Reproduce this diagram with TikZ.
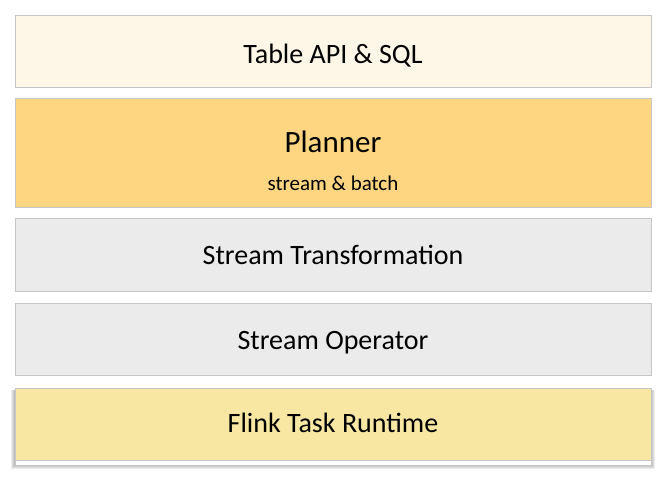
\documentclass[tikz,border=0pt]{standalone}
\usepackage{fontspec}
\setmainfont{Carlito}
\definecolor{apiFill}{HTML}{FEF7E7}
\definecolor{plannerFill}{HTML}{FED681}
\definecolor{streamFill}{HTML}{EBEBEB}
\definecolor{runtimeFill}{HTML}{F8E7A2}
\definecolor{edgeGray}{HTML}{C6C6C6}

\begin{document}
\begin{tikzpicture}[x=1pt,y=-1pt,
    layer/.style={draw=edgeGray, line width=0.9pt, anchor=north west, inner sep=0pt,
      minimum width=636pt},
    caption/.style={anchor=base, inner sep=0pt, font=\fontsize{28}{30}\selectfont},
    sublabel/.style={anchor=base, inner sep=0pt, font=\fontsize{21}{23}\selectfont}]
    \useasboundingbox (0,0) rectangle (666,483);

    \node[layer, fill=apiFill, minimum height=72pt] (api) at (15,15) {};
    \node[caption] (apitext) at (333,63) {Table API \& SQL};

    \node[layer, fill=plannerFill, minimum height=109pt] (planner) at (15,98) {};
    \node[caption, font=\fontsize{31}{33}\selectfont] (plannertext) at (333,152) {Planner};
    \node[sublabel] (plannersub) at (333,190) {stream \& batch};

    \node[layer, fill=streamFill, minimum height=73pt] (transform) at (15,218) {};
    \node[caption] (transformtext) at (333,264) {Stream Transformation};

    \node[layer, fill=streamFill, minimum height=72pt] (operator) at (15,303) {};
    \node[caption] (operatortext) at (333,349) {Stream Operator};

    % soft shadow under the runtime box
    \foreach \k in {1,2,3,4}
      \fill[black, opacity=0.07] (15-\k,390) rectangle (651+\k,465+\k);
    \node[layer, fill=white, minimum height=77pt] (runtimebase) at (15,388) {};
    \node[layer, fill=runtimeFill, minimum height=72pt] (runtime) at (15,388) {};
    \node[caption] (runtimetext) at (333,432) {Flink Task Runtime};
\end{tikzpicture}
\end{document}
